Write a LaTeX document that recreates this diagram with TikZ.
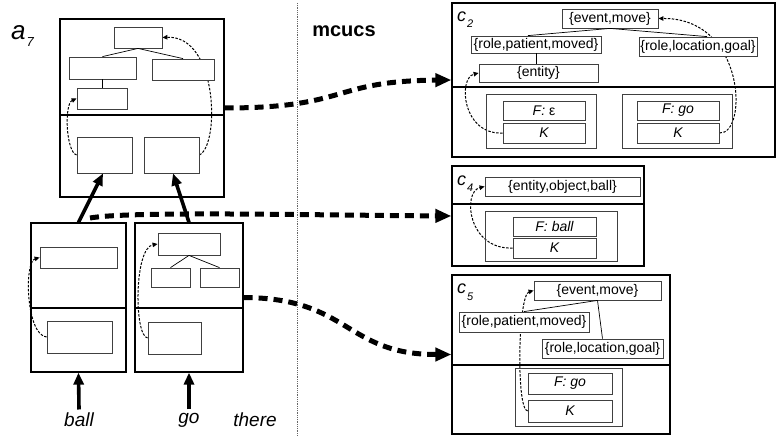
\documentclass[tikz,border=0pt]{standalone}
\usepackage{fontspec}
\setmainfont{Liberation Sans}
\usetikzlibrary{arrows.meta}
\pgfdeclarelayer{bg}
\pgfsetlayers{bg,main}
\begin{document}
\begin{tikzpicture}[x=1pt,y=-1pt,
  ob/.style={draw=black,line width=1.2pt,inner sep=0pt},
  cont/.style={draw=black!75,line width=0.9pt,inner sep=0pt},
  ib/.style={draw=black!75,fill=white,line width=0.8pt,inner sep=0pt,font=\fontsize{14}{14}\selectfont},
  kb/.style={ib,font=\fontsize{14}{14}\selectfont\itshape},
  tree/.style={draw=black,line width=0.7pt},
  thindash/.style={draw=black,line width=1pt,dash pattern=on 2.5pt off 1.5pt,-{Triangle[length=5pt,width=4.5pt]}},
  bigdash/.style={draw=black,line width=5pt,dash pattern=on 9pt off 6pt,-{Triangle[length=16pt,width=13pt]}},
  fat/.style={draw=black,line width=3.6pt,-{Triangle[length=12pt,width=10pt]}},
  word/.style={font=\fontsize{19}{19}\selectfont\itshape},
  clbl/.style={font=\fontsize{18}{18}\selectfont\itshape,inner sep=0pt,anchor=base west}]
\useasboundingbox (0,0) rectangle (777,436);

% ---------- left: a7 ----------
\node[font=\fontsize{26}{26}\selectfont\itshape,inner sep=0pt,anchor=base west] (a7l) at (11,40) {a\hspace{1pt}\raisebox{-7pt}{\fontsize{13}{13}\selectfont 7}};
\node[ob,minimum width=164,minimum height=178] (A7) at (142,108) {};
\draw[line width=1.2pt] (60,115) -- (224,115);
\node[ib,minimum width=48,minimum height=21] (at1) at (138,37.5) {};
\node[ib,minimum width=67,minimum height=22] (at2) at (102.5,68) {};
\node[ib,minimum width=62,minimum height=21] (at3) at (183,69.5) {};
\node[ib,minimum width=50,minimum height=21] (at4) at (102,98.5) {};
\node[ib,minimum width=55,minimum height=36] (ab1) at (104.5,155) {};
\node[ib,minimum width=55,minimum height=36] (ab2) at (171.5,155) {};
\draw[tree] (at1.south) -- (at2.north);
\draw[tree] (at1.south) -- (at3.north);
\draw[tree] (at2.south) -- (at2.south |- at4.north);

% ---------- ball ----------
\node[ob,minimum width=95,minimum height=149] (B) at (78.5,297.5) {};
\draw[line width=1.2pt] (31,308) -- (126,308);
\node[ib,minimum width=77,minimum height=21] (bt) at (78.5,257.5) {};
\node[ib,minimum width=65,minimum height=32] (bb) at (79.5,337) {};

% ---------- go ----------
\node[ob,minimum width=108,minimum height=149] (G) at (189,297.5) {};
\draw[line width=1.2pt] (135,308) -- (243,308);
\node[ib,minimum width=62,minimum height=22] (gt) at (189,244) {};
\node[ib,minimum width=39,minimum height=19] (gl) at (170.5,277.5) {};
\node[ib,minimum width=39,minimum height=19] (gr) at (219.5,277.5) {};
\node[ib,minimum width=53,minimum height=32] (gb) at (174.5,338) {};
\draw[tree] (gt.south) -- (gl.north);
\draw[tree] (gt.south) -- (gr.north);

% words
\node[word] (ball) at (79,420) {ball};
\node[word] (go) at (189,420) {go};
\node[word] (there) at (255,420) {there};
\draw[fat] (ball.north) -- (B.south);
\draw[fat] (go.north) -- (G.south);
\draw[fat] (B.north) -- ([xshift=-1.5]ab1.south);
\draw[fat] (G.north) -- ([xshift=1.5]ab2.south);

% divider line and title
\draw[black!60,line width=0.7pt,dash pattern=on 0.8pt off 1pt] (297,3) -- (297,436);
\node[font=\fontsize{20}{20}\selectfont\bfseries] (mc) at (344,31) {mcucs};

% ---------- c2 ----------
\node[ob,minimum width=323,minimum height=154] (C2) at (613.5,80) {};
\draw[line width=1.2pt] (452,87) -- (775,87);
\node[clbl] (c2l) at (457,22) {c\hspace{1pt}\raisebox{-6pt}{\fontsize{11}{11}\selectfont 2}};
\node[ib,minimum width=96,minimum height=19] (em2) at (610,18.5) {\{event,move\}};
\node[ib,minimum width=130,minimum height=17] (rp2) at (536,44.5) {\{role,patient,moved\}};
\node[ib,minimum width=118,minimum height=19] (rl2) at (698,46.5) {\{role,location,goal\}};
\node[ib,minimum width=119,minimum height=18] (en2) at (538.5,73) {\{entity\}};
\draw[tree] (em2.south) -- ([xshift=-8]rp2.north);
\draw[tree] (em2.south) -- ([xshift=9]rl2.north);
\draw[tree] (rp2.south) -- (rp2.south |- en2.north);
\node[cont,minimum width=110,minimum height=54] (L2) at (541,121) {};
\node[kb,minimum width=82,minimum height=19] (f2a) at (544,110.5) {F: \normalfont ε};
\node[kb,minimum width=82,minimum height=20] (k2a) at (544,133) {K};
\node[cont,minimum width=110,minimum height=54] (R2) at (677,121) {};
\node[kb,minimum width=82,minimum height=19] (f2b) at (678,110.5) {F: go};
\node[kb,minimum width=82,minimum height=20] (k2b) at (678,133) {K};

% ---------- c4 ----------
\node[ob,minimum width=192,minimum height=100] (C4) at (548,216) {};
\draw[line width=1.2pt] (452,204) -- (644,204);
\node[clbl] (c4l) at (457,185) {c\hspace{1pt}\raisebox{-6pt}{\fontsize{11}{11}\selectfont 4}};
\node[ib,minimum width=155,minimum height=19] (eob) at (562.5,186.5) {\{entity,object,ball\}};
\node[cont,minimum width=132,minimum height=50] (L4) at (551,236) {};
\node[kb,minimum width=83,minimum height=19] (f4) at (554.5,226.5) {F: ball};
\node[kb,minimum width=83,minimum height=20] (k4) at (554.5,248) {K};

% ---------- c5 ----------
\node[ob,minimum width=218,minimum height=159] (C5) at (561,354.5) {};
\draw[line width=1.2pt] (452,365) -- (670,365);
\node[clbl] (c5l) at (457,293) {c\hspace{1pt}\raisebox{-7pt}{\fontsize{11}{11}\selectfont 5}};
\node[ib,minimum width=127,minimum height=19] (em5) at (597.5,290.5) {\{event,move\}};
\node[ib,minimum width=130,minimum height=20] (rp5) at (524,322) {\{role,patient,moved\}};
\node[ib,minimum width=121,minimum height=19] (rl5) at (602.5,348.5) {\{role,location,goal\}};
\draw[tree] (em5.south) -- (rp5.north);
\draw[tree] (em5.south) -- (rl5.north);
\node[cont,minimum width=107,minimum height=58] (L5) at (568.5,397) {};
\node[kb,minimum width=84,minimum height=21] (f5) at (570,383.5) {F: go};
\node[kb,minimum width=84,minimum height=22] (k5) at (570,411) {K};

% ---------- thin dashed links (behind boxes) ----------
\begin{pgfonlayer}{bg}
\draw[thindash] (ab1.west) .. controls (66,152) and (64,104) .. (at4.west);
\draw[thindash] (ab2.east) .. controls (220,145) and (218,35) .. (at1.east);
\draw[thindash] (bb.west) .. controls (26,335) and (24,262) .. (bt.west);
\draw[thindash] (gb.west) .. controls (134,336) and (134,248) .. (gt.west);
\draw[thindash] (k2a.west) .. controls (462,135) and (458,78) .. (en2.west);
\draw[thindash] (k2b.east) .. controls (748,135) and (746,18) .. (em2.east);
\draw[thindash] (k4.west) .. controls (468,250) and (462,192) .. (eob.west);
\draw[thindash] (k5.west) .. controls (516,410) and (518,295) .. (em5.west);
\end{pgfonlayer}

% ---------- thick dashed arrows ----------
\coordinate (s2) at (90,218);
\draw[bigdash] (A7.east) .. controls (350,108) and (330,81) .. (C2.west);
\draw[bigdash] (s2) .. controls (130,211) and (300,215) .. (C4.west);
\draw[bigdash] (G.east) .. controls (350,298) and (345,354.5) .. (C5.west);
\end{tikzpicture}
\end{document}
